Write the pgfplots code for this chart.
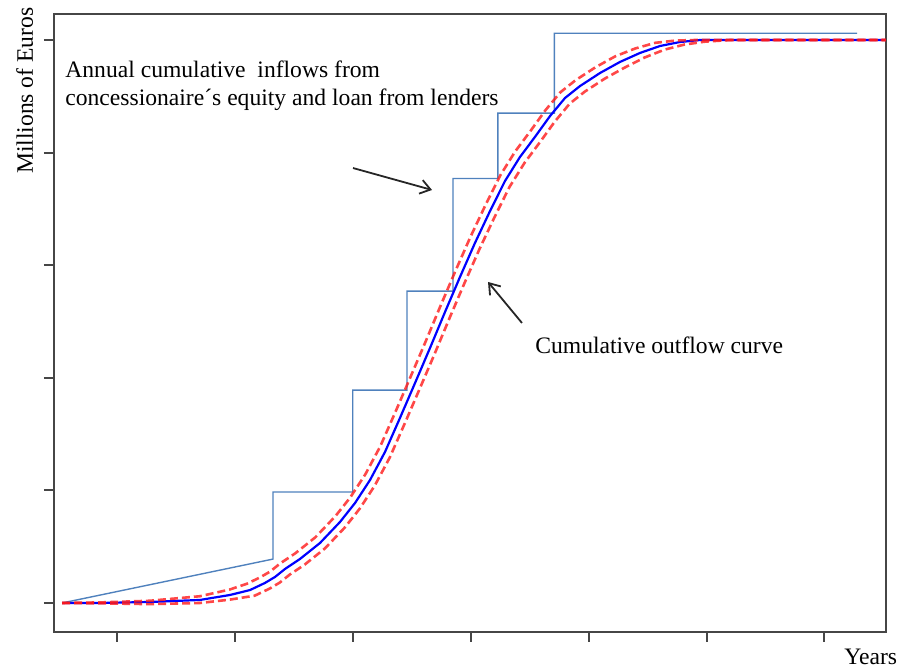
\documentclass[border=0pt]{standalone}
\usepackage{fontspec}
\setmainfont{Liberation Serif}
\usepackage{pgfplots}
\pgfplotsset{compat=1.18}
\usetikzlibrary{arrows.meta}
\definecolor{steplc}{RGB}{79,129,189}
\definecolor{axgray}{RGB}{70,70,70}
\begin{document}
\begin{tikzpicture}
\begin{axis}[
  name=ax,
  width=416pt, height=309pt, scale only axis,
  xmin=0.4657, xmax=7.5225, ymin=-0.2575, ymax=5.231,
  xtick={1,2,3,4,5,6,7}, ytick={0,1,2,3,4,5},
  xticklabels={}, yticklabels={},
  xtick pos=bottom, ytick pos=left,
  tick align=outside, major tick length=5pt,
  tick style={line width=1pt, color=axgray},
  axis line style={line width=1.4pt, color=axgray},
  clip=false,
]
% annual cumulative inflows (step line)
\addplot[steplc, line width=0.7pt] coordinates {
(0.534,0) (2.323,0.39) (2.323,0.986) (3.0,0.986) (3.0,1.89) (3.46,1.89)
(3.46,2.77) (3.85,2.77) (3.85,3.77) (4.23,3.77) (4.23,4.35) (4.71,4.35)
(4.71,5.06) (7.277,5.06)
};
% cumulative outflow curve
\addplot[blue, line width=1.1pt] coordinates {
(0.534,0) (0.856,0) (1.280,0.009) (1.704,0.027) (1.958,0.071) (2.128,0.115)
(2.255,0.178) (2.340,0.231) (2.425,0.302) (2.552,0.391) (2.722,0.533)
(2.891,0.719) (3.019,0.888) (3.146,1.092) (3.273,1.341) (3.400,1.643)
(3.528,1.954) (3.655,2.265) (3.782,2.584) (3.909,2.895) (4.036,3.197)
(4.164,3.481) (4.291,3.748) (4.418,3.961) (4.545,4.139) (4.673,4.325)
(4.800,4.485) (4.927,4.591) (5.097,4.707) (5.266,4.805) (5.436,4.885)
(5.606,4.947) (5.775,4.982) (5.945,5.000) (7.522,5.000)
};
% upper band
\addplot[red!90, line width=1.3pt, dash pattern=on 4pt off 2pt, opacity=0.8] coordinates {
(0.534,0) (0.856,0.005) (1.280,0.02) (1.704,0.06) (1.958,0.12) (2.10,0.17)
(2.215,0.228) (2.30,0.28) (2.385,0.352) (2.512,0.441) (2.682,0.583)
(2.851,0.769) (2.979,0.938) (3.106,1.142) (3.233,1.391) (3.360,1.693)
(3.488,2.004) (3.615,2.315) (3.742,2.634) (3.869,2.945) (3.996,3.247)
(4.124,3.531) (4.251,3.798) (4.378,4.011) (4.505,4.189) (4.633,4.375)
(4.760,4.535) (4.887,4.641) (5.057,4.757) (5.226,4.855) (5.396,4.925)
(5.566,4.975) (5.735,4.995) (5.905,5.0) (7.522,5.0)
};
% lower band
\addplot[red!90, line width=1.3pt, dash pattern=on 4pt off 2pt, opacity=0.8] coordinates {
(0.534,0) (0.856,-0.003) (1.280,-0.01) (1.704,0.0) (1.958,0.03) (2.168,0.065)
(2.295,0.128) (2.380,0.181) (2.465,0.252) (2.592,0.341) (2.762,0.483)
(2.931,0.669) (3.059,0.838) (3.186,1.042) (3.313,1.291) (3.440,1.593)
(3.568,1.904) (3.695,2.215) (3.822,2.534) (3.949,2.845) (4.076,3.147)
(4.204,3.431) (4.331,3.698) (4.458,3.911) (4.585,4.089) (4.713,4.275)
(4.840,4.435) (4.967,4.541) (5.137,4.657) (5.306,4.755) (5.476,4.845)
(5.646,4.915) (5.815,4.96) (5.985,4.985) (6.2,5.0) (7.522,5.0)
};
% annotations
\node[anchor=base west, inner sep=0pt, align=left, font=\fontsize{11.8}{14}\selectfont]
  at (axis cs:0.559,4.414) {Annual cumulative\hspace{0.5em}inflows from\\concessionaire´s equity and loan from lenders};
\node[anchor=base west, inner sep=0pt, font=\fontsize{11.8}{14}\selectfont]
  at (axis cs:4.545,2.220) {Cumulative outflow curve};
\draw[line width=0.9pt, black!85, -{Straight Barb[length=5pt, width=7pt]}] (axis cs:3.002,3.863) -- (axis cs:3.672,3.668);
\draw[line width=0.9pt, black!85, -{Straight Barb[length=5pt, width=7pt]}] (axis cs:4.435,2.487) -- (axis cs:4.147,2.851);
\node[rotate=90, anchor=base east, inner sep=0pt, font=\fontsize{11.8}{14}\selectfont]
  at ([xshift=-10.5pt, yshift=3.5pt] rel axis cs:0,1) {Millions of Euros};
\node[anchor=base west, inner sep=0pt, font=\fontsize{11.8}{14}\selectfont]
  at ([xshift=-21pt, yshift=-16.5pt] rel axis cs:1,0) {Years};
\end{axis}
\path ([xshift=-27pt,yshift=-18pt]ax.south west) rectangle ([xshift=8.5pt,yshift=7pt]ax.north east);
\end{tikzpicture}
\end{document}
